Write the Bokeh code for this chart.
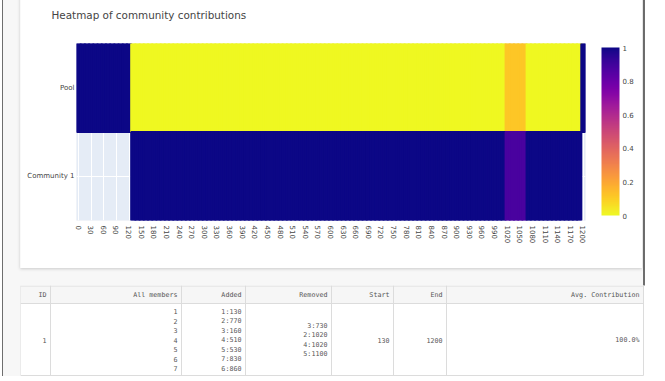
import math
from bokeh.plotting import figure
from bokeh.models import (ColumnDataSource, LinearColorMapper, ColorBar, FixedTicker,
                          Range1d, FactorRange, Title, CustomJSTickFormatter)
from bokeh.layouts import column
from bokeh.palettes import Plasma256
from bokeh.transform import transform
from bokeh.core.properties import value
from bokeh.embed import file_html
from bokeh.resources import INLINE

# ---------------- data ----------------
title_text = "Heatmap of community contributions"
rows = ["Community 1", "Pool"]
time_steps = list(range(0, 1201, 10))
x_ticks = [0, 30, 60, 90, 120, 150, 180, 210, 240, 270, 300, 330, 360, 390, 420, 450,
           480, 510, 540, 570, 600, 630, 660, 690, 720, 750, 780, 810, 840, 870, 900,
           930, 960, 990, 1020, 1050, 1080, 1110, 1140, 1170, 1200]
cbar_ticks = [0, 0.2, 0.4, 0.6, 0.8, 1]

N = None
pool_values = [
    1, 1, 1, 1, 1, 1, 1, 1, 1, 1,          # 0-90
    1, 1, 1, 0, 0, 0, 0, 0, 0, 0,          # 100-190
    0, 0, 0, 0, 0, 0, 0, 0, 0, 0,          # 200-290
    0, 0, 0, 0, 0, 0, 0, 0, 0, 0,          # 300-390
    0, 0, 0, 0, 0, 0, 0, 0, 0, 0,          # 400-490
    0, 0, 0, 0, 0, 0, 0, 0, 0, 0,          # 500-590
    0, 0, 0, 0, 0, 0, 0, 0, 0, 0,          # 600-690
    0, 0, 0, 0, 0, 0, 0, 0, 0, 0,          # 700-790
    0, 0, 0, 0, 0, 0, 0, 0, 0, 0,          # 800-890
    0, 0, 0, 0, 0, 0, 0, 0, 0, 0,          # 900-990
    0, 0, 0.12, 0.12, 0.12, 0.12, 0.12, 0, 0, 0,   # 1000-1090
    0, 0, 0, 0, 0, 0, 0, 0, 0, 0,          # 1100-1190
    1,                                     # 1200
]
community1_values = [
    N, N, N, N, N, N, N, N, N, N,          # 0-90
    N, N, N, 1, 1, 1, 1, 1, 1, 1,          # 100-190
    1, 1, 1, 1, 1, 1, 1, 1, 1, 1,          # 200-290
    1, 1, 1, 1, 1, 1, 1, 1, 1, 1,          # 300-390
    1, 1, 1, 1, 1, 1, 1, 1, 1, 1,          # 400-490
    1, 1, 1, 1, 1, 1, 1, 1, 1, 1,          # 500-590
    1, 1, 1, 1, 1, 1, 1, 1, 1, 1,          # 600-690
    1, 1, 1, 1, 1, 1, 1, 1, 1, 1,          # 700-790
    1, 1, 1, 1, 1, 1, 1, 1, 1, 1,          # 800-890
    1, 1, 1, 1, 1, 1, 1, 1, 1, 1,          # 900-990
    1, 1, 0.88, 0.88, 0.88, 0.88, 0.88, 1, 1, 1,   # 1000-1090
    1, 1, 1, 1, 1, 1, 1, 1, 1, 1,          # 1100-1190
    N,                                     # 1200
]

# table data
table_headers = ["ID", "All members", "Added", "Removed", "Start", "End", "Avg. Contribution"]
col_id = ["1"]
col_members = ["1", "2", "3", "4", "5", "6", "7"]
col_added = ["1:130", "2:770", "3:160", "4:510", "5:530", "7:830", "6:860"]
col_removed = ["3:730", "2:1020", "4:1020", "5:1100"]
col_start = ["130"]
col_end = ["1200"]
col_avg = ["100.0%"]

# ---------------- heatmap ----------------
xs, ys, vals = [], [], []
for name, series in (("Pool", pool_values), ("Community 1", community1_values)):
    for t, v in zip(time_steps, series):
        xs.append(t)
        ys.append(name)
        vals.append(float("nan") if v is None else v)
src = ColumnDataSource(dict(x=xs, y=ys, v=vals))

mapper = LinearColorMapper(palette=list(reversed(Plasma256)), low=0, high=1,
                           nan_color="rgba(0,0,0,0)")

TXT = "#444444"
FONT = "DejaVu Sans"

heat = figure(width=622, height=284, output_backend="svg", toolbar_location=None,
              x_range=Range1d(-5, 1205), y_range=FactorRange(*rows, range_padding=0),
              min_border_left=56, min_border_right=57, min_border_top=58,
              min_border_bottom=48, margin=(-16, 0, 0, 20))
heat.frame_align = False
heat.title = None
heat.add_layout(Title(text=title_text, align="left", offset=-25, standoff=45,
                      text_font=FONT, text_font_size="10.4px", text_color=TXT,
                      text_font_style="normal"), "above")
heat.background_fill_color = "#e5ecf6"
heat.border_fill_color = "white"
heat.outline_line_color = None

heat.rect(x="x", y="y", width=10, height=1, source=src,
          fill_color=transform("v", mapper), line_color=transform("v", mapper),
          line_width=2)

heat.xaxis.ticker = FixedTicker(ticks=x_ticks)
heat.xgrid.ticker = FixedTicker(ticks=x_ticks)
heat.xaxis.major_label_orientation = -math.pi / 2
for ax in (heat.xaxis[0], heat.yaxis[0]):
    ax.axis_line_color = None
    ax.major_tick_line_color = None
    ax.minor_tick_line_color = None
    ax.major_tick_out = 0
    ax.major_tick_in = 0
    ax.minor_tick_out = 0
    ax.major_label_text_font = FONT
    ax.major_label_text_font_size = "7px"
    ax.major_label_text_color = TXT
heat.xaxis.major_label_standoff = 5
heat.yaxis.major_label_standoff = 2
heat.grid.grid_line_color = "white"
heat.grid.grid_line_width = 1

cbar = ColorBar(color_mapper=mapper, width=18, height=168, location=(16, 5),
                padding=0, margin=0, bar_line_color=None,
                ticker=FixedTicker(ticks=cbar_ticks),
                formatter=CustomJSTickFormatter(code="return String(Math.round(tick*10)/10);"),
                major_tick_line_color=None, minor_tick_line_color=None,
                major_label_text_font=FONT, major_label_text_font_size="7px",
                major_label_text_color=TXT, label_standoff=3,
                background_fill_color=None, border_line_color=None)
heat.add_layout(cbar, "right")
heat.styles = {"box-shadow": "0 1px 3px rgba(0,0,0,0.18)"}

# ---------------- table ----------------
TW, TH = 625, 91
HEADER_H = 18
col_edges = [0, 30, 161, 225, 311, 373, 426, 623]
line_h = 9.5
PAD = 4

tbl = figure(width=TW, height=TH, output_backend="svg", toolbar_location=None,
             x_range=Range1d(0, TW), y_range=Range1d(TH, 0),
             min_border=0, margin=(0, 0, 0, 20))
tbl.frame_align = False
tbl.axis.visible = False
tbl.grid.visible = False
tbl.outline_line_color = None
tbl.background_fill_color = "white"
tbl.border_fill_color = "white"

tbl.quad(left=[col_edges[0]], right=[col_edges[-1]], top=[0], bottom=[HEADER_H],
         fill_color="#f6f6f6", line_color=None)
tbl.segment(x0=col_edges, x1=col_edges, y0=[0] * len(col_edges),
            y1=[TH - 1] * len(col_edges), line_color="#dcdcdc", line_width=1)
tbl.segment(x0=[0, 0, 0], x1=[col_edges[-1]] * 3, y0=[0.5, HEADER_H, TH - 1],
            y1=[0.5, HEADER_H, TH - 1], line_color="#dcdcdc", line_width=1)

tx, ty, tt = [], [], []
for i, h in enumerate(table_headers):
    tx.append(col_edges[i + 1] - PAD)
    ty.append(HEADER_H / 2)
    tt.append(h)
row_center = (HEADER_H + TH) / 2
for i, lines in enumerate([col_id, col_members, col_added, col_removed,
                           col_start, col_end, col_avg]):
    n = len(lines)
    for k, s in enumerate(lines):
        tx.append(col_edges[i + 1] - PAD)
        ty.append(row_center + (k - (n - 1) / 2) * line_h)
        tt.append(s)
tbl.text(x=tx, y=ty, text=tt, text_align="right", text_baseline="middle",
         text_font=value("DejaVu Sans Mono"), text_font_size="6.7px",
         text_color="#555555")

root = column(heat, tbl, spacing=17,
              styles={"background-color": "#f7f7f7",
                      "box-shadow": "inset 2px 0 0 #ffffff, inset 3px 0 0 #6e6e6e, "
                                    "inset -2px 0 0 #6e6e6e"})

open("out.html", "w").write(file_html(root, INLINE))
